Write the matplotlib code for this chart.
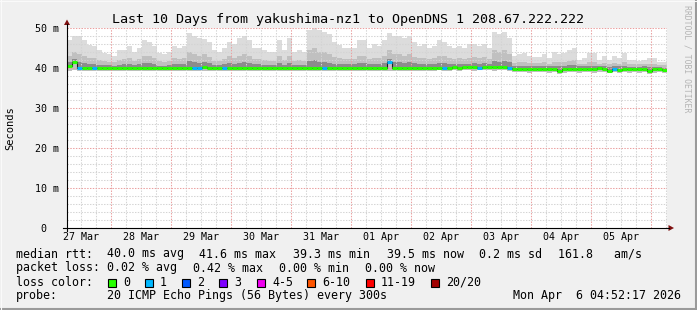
import matplotlib
matplotlib.use('Agg')
import matplotlib.pyplot as plt
import matplotlib.dates as mdates
from matplotlib.patches import Rectangle, Polygon
from matplotlib.lines import Line2D
import numpy as np
import pandas as pd

title = 'Last 10 Days from yakushima-nz1 to OpenDNS 1 208.67.222.222'
t_start = '2026-03-27 06:24'     # left edge of graph
bin_hours = 2                    # one smoke column = 2 hours
day_labels = ['27 Mar', '28 Mar', '29 Mar', '30 Mar', '31 Mar',
              '01 Apr', '02 Apr', '03 Apr', '04 Apr', '05 Apr']
y_ticks = [0, 10, 20, 30, 40, 50]
y_labels = ['0  ', '10 m', '20 m', '30 m', '40 m', '50 m']

# rtt in ms, one value per 2h bin (12 per row = 1 day)
smoke_top = [
    47, 48, 48, 47, 45.7, 45.5, 44.5, 43.7, 43.5, 43, 44.5, 44.5,
    45.5, 44, 45, 47, 46.5, 45.5, 43.7, 43.5, 44, 45.5, 45, 45.5,
    48.7, 48, 47.5, 47.3, 46.5, 44.5, 44, 45, 46.5, 46, 47.5, 48,
    47, 45, 45, 44.5, 44, 44, 47, 44.5, 47.5, 44, 44.5, 44,
    49.5, 50, 49.5, 49, 48.5, 46.5, 45.7, 45, 45, 45, 47, 47,
    45, 46, 45.5, 47, 48.7, 48, 48, 47.5, 48, 46.5, 45.5, 46,
    45, 45.5, 47, 46.5, 45.5, 45, 45.5, 45, 46, 46, 45.5, 46,
    45, 49, 48.5, 49, 47.5, 43, 43.5, 43.7, 43, 42.8, 42.8, 43.5,
    42.5, 44, 43.5, 43.7, 44.5, 45, 42, 42.5, 43.7, 43.7, 42, 43,
    42, 43, 42.5, 43.7, 42, 42, 41.8, 42, 42.6, 42.6, 41.5, 41.5]
smoke_mid = [
    43, 44, 43.5, 43, 42.5, 42.5, 42, 41.8, 41.6, 41.5, 42, 42.2,
    42.5, 41.8, 42.2, 43, 43, 42.5, 41.7, 41.6, 41.8, 42.5, 42.2, 42.6,
    44, 43.5, 43, 43.5, 42.8, 41.8, 41.8, 42.2, 43, 42.5, 43, 43.5,
    43, 42.2, 42.2, 42, 41.8, 41.8, 43, 42, 43, 41.8, 42, 41.8,
    44.5, 45, 44, 44, 43.5, 42.8, 42.5, 42.2, 42.2, 42.2, 43, 43,
    42.2, 42.5, 42.5, 43, 44.5, 43.5, 43.5, 43, 43.5, 42.8, 42.5, 42.5,
    42.2, 42.5, 43, 43, 42.5, 42.2, 42.5, 42.2, 42.5, 42.8, 42.5, 42.8,
    42.2, 44.5, 44, 44.5, 43.5, 41.3, 41.5, 41.5, 41.2, 41.2, 41.2, 41.4,
    41.1, 41.6, 41.5, 41.5, 41.8, 42, 41, 41.1, 41.5, 41.5, 41, 41.2,
    41, 41.2, 41.1, 41.5, 41, 41, 40.9, 41, 41.1, 41.1, 40.8, 40.8]
smoke_dark = [
    41.5, 42.2, 41.5, 41.2, 40.9, 40.9, 40.8, 40.7, 40.7, 40.6, 40.8, 40.9,
    41, 40.7, 40.9, 41.3, 41.3, 41, 40.6, 40.6, 40.7, 41, 40.9, 41,
    41.8, 41.5, 41.3, 41.5, 41.2, 40.8, 40.7, 40.9, 41.3, 41, 41.3, 41.5,
    41.3, 40.9, 40.9, 40.8, 40.7, 40.7, 41.3, 40.8, 41.3, 40.7, 40.8, 40.7,
    41.8, 42, 41.6, 41.5, 41.3, 41, 40.9, 40.9, 40.9, 40.9, 41.2, 41.2,
    40.9, 41, 41, 41.3, 42.2, 41.6, 41.5, 41.3, 41.5, 41.2, 41, 41,
    41, 41, 41.2, 41.2, 41, 41, 41, 41, 41.1, 41.2, 41.1, 41.2,
    41, 41.8, 41.6, 41.8, 41.5, 40.5, 40.6, 40.6, 40.5, 40.5, 40.5, 40.6,
    40.4, 40.6, 40.5, 40.6, 40.7, 40.8, 40.4, 40.5, 40.6, 40.6, 40.4, 40.5,
    40.3, 40.5, 40.4, 40.6, 40.3, 40.3, 40.3, 40.4, 40.3, 40.3, 40.2, 40.1]
smoke_low = [
    39.3, 39.4, 39.2, 39.3, 39.3, 39.2, 39.3, 39.3, 39.2, 39.3, 39.3, 39.2,
    39.3, 39.2, 39.3, 39.3, 39.2, 39.3, 39.3, 39.3, 39.2, 39.3, 39.2, 39.3,
    39.2, 39.2, 39.3, 39.3, 39.2, 39.3, 39.3, 39.2, 39.3, 39.3, 39.2, 39.3,
    39.3, 39.2, 39.3, 39.3, 39.3, 39.2, 39.3, 39.3, 39.2, 39.3, 39.3, 39.3,
    39.2, 39.2, 39.3, 39.2, 39.3, 39.3, 39.2, 39.3, 39.3, 39.3, 39.2, 39.3,
    39.3, 39.2, 39.3, 39.3, 39.2, 39.3, 39.3, 39.2, 39.3, 39.3, 39.3, 39.2,
    39.3, 39.3, 39.4, 39.3, 39.3, 39.4, 39.3, 39.4, 39.4, 39.3, 39.4, 39.4,
    39.4, 39.3, 39.4, 39.4, 39.3, 39.0, 38.9, 38.9, 38.8, 38.9, 38.9, 38.9,
    38.8, 38.9, 38.6, 38.8, 38.9, 38.9, 38.8, 38.9, 38.9, 38.8, 38.9, 38.9,
    38.7, 38.9, 38.7, 38.9, 38.8, 38.9, 38.8, 38.9, 38.5, 38.8, 38.9, 38.7]
median = [
    40.4, 41.6, 40.1, 40.0, 40.0, 40.0, 40.0, 40.1, 40.0, 40.0, 40.0, 40.0,
    40.0, 40.1, 40.0, 40.0, 40.1, 40.0, 40.0, 40.0, 40.1, 40.0, 39.9, 40.0,
    40.0, 40.1, 40.0, 40.2, 40.0, 40.1, 40.0, 40.0, 40.0, 40.1, 40.0, 40.0,
    40.0, 40.0, 40.1, 40.0, 40.0, 40.0, 40.1, 40.0, 40.0, 40.0, 40.0, 40.0,
    40.0, 40.1, 40.0, 40.1, 40.0, 40.1, 40.0, 40.0, 40.0, 40.1, 40.0, 40.0,
    40.0, 40.0, 40.1, 40.0, 41.6, 40.1, 40.0, 40.1, 40.0, 40.1, 40.0, 40.0,
    40.1, 40.0, 40.0, 40.1, 40.0, 40.2, 40.1, 40.2, 40.2, 40.2, 40.1, 40.2,
    40.2, 40.2, 40.2, 40.2, 40.1, 39.8, 39.8, 39.7, 39.7, 39.7, 39.7, 39.8,
    39.7, 39.8, 39.2, 39.7, 39.8, 39.8, 39.7, 39.8, 39.8, 39.8, 39.9, 39.8,
    39.3, 39.8, 39.6, 39.8, 39.7, 39.8, 39.7, 39.8, 39.2, 39.7, 39.8, 39.5]
# lost pings (of 20) per bin
loss = [0] * 120
for i in [2, 5, 25, 26, 31, 51, 64, 75, 82, 88, 109]:
    loss[i] = 1

loss_labels = ['0', '1', '2', '3', '4-5', '6-10', '11-19', '20/20']
loss_colors = ['#26ff00', '#00b8ff', '#0059ff', '#7e00ff', '#f000f0',
               '#ff5500', '#ff0000', '#a10000']
loss_limits = [0, 1, 2, 3, 5, 10, 19, 20]

stats_rows = [
    ('median rtt:', [(107, '40.0 ms avg'), (199, '41.6 ms max'), (293, '39.3 ms min'),
                     (387, '39.5 ms now'), (479, '0.2 ms sd'), (558, '161.8   am/s')]),
    ('packet loss:', [(107, '0.02 % avg'), (193, '0.42 % max'), (279, '0.00 % min'),
                      (365, '0.00 % now')]),
    ('probe:', [(107, '20 ICMP Echo Pings (56 Bytes) every 300s'),
                (513, 'Mon Apr  6 04:52:17 2026')]),
]

W, H = 697, 310
MONO = 'DejaVu Sans Mono'


def fx(px):
    return px / W


def fy(py):
    return 1 - py / H


def loss_color(n):
    for lim, c in zip(loss_limits, loss_colors):
        if n <= lim:
            return c
    return loss_colors[-1]


fig = plt.figure(figsize=(W / 100, H / 100), dpi=100, facecolor='#f0f0f0')
ax = fig.add_axes([fx(67), fy(228), 600 / W, 200 / H])
ax.set_facecolor('white')

start = pd.Timestamp(t_start)
n = len(median)
edges = start + pd.to_timedelta(np.arange(n + 1) * bin_hours, unit='h')
xe = mdates.date2num(edges.to_pydatetime())


def step(v):
    return np.append(v, v[-1])


ax.fill_between(xe, step(smoke_low), step(smoke_top), step='post', color='#dcdcdc', lw=0, zorder=1)
ax.fill_between(xe, step(smoke_low), step(smoke_mid), step='post', color='#c0c0c0', lw=0, zorder=1.1)
ax.fill_between(xe, step(median), step(smoke_dark), step='post', color='#8c8c8c', lw=0, zorder=1.2)

# grid (drawn over smoke like rrdtool)
end = start + pd.Timedelta(days=10)
x0, x1 = mdates.date2num(start.to_pydatetime()), mdates.date2num(end.to_pydatetime())
six_h = pd.date_range(start.ceil('6h'), end, freq='6h')
for t in six_h:
    xv = mdates.date2num(t.to_pydatetime())
    if t.hour == 0:
        ax.axvline(xv, color='#eba0a0', lw=0.75, ls=(0, (1.35, 1.35)), zorder=3)
    else:
        ax.axvline(xv, color='#d4d4d4', lw=0.75, ls=(0, (1.35, 1.35)), zorder=3)
for yv in range(2, 51, 2):
    if yv % 10 == 0:
        ax.axhline(yv, color='#eba0a0', lw=0.75, ls=(0, (1.35, 1.35)), zorder=3)
    else:
        ax.axhline(yv, color='#d4d4d4', lw=0.75, ls=(0, (1.35, 1.35)), zorder=3)

# median line coloured by loss
ax.step(xe, step(median), where='post', color='#202020', lw=0.8, zorder=4)
for i in range(n):
    ax.hlines(median[i], xe[i], xe[i + 1], color=loss_color(loss[i]), lw=2.2, zorder=5)

ax.set_xlim(x0, x1)
ax.set_ylim(0, 50)
noons = [mdates.date2num((start.normalize() + pd.Timedelta(days=k, hours=12)).to_pydatetime())
         for k in range(len(day_labels))]
ax.set_xticks(noons)
ax.set_xticklabels(day_labels, family=MONO, fontsize=7.2)
ax.set_yticks(y_ticks)
ax.set_yticklabels(y_labels, family=MONO, fontsize=7.2)
ax.tick_params(axis='x', length=0, pad=3)
ax.tick_params(axis='y', length=0, pad=5.8)
for s in ax.spines.values():
    s.set_visible(False)

# axes with arrows
fig.add_artist(Line2D([fx(67), fx(67)], [fy(231), fy(24)], color='black', lw=0.8))
fig.add_artist(Line2D([fx(63), fx(669)], [fy(228), fy(228)], color='black', lw=0.8))
fig.add_artist(Polygon([(fx(64), fy(25)), (fx(70), fy(25)), (fx(67), fy(19.5))],
                       closed=True, color='#7f1010', lw=0))
fig.add_artist(Polygon([(fx(668.5), fy(225)), (fx(668.5), fy(231)), (fx(674), fy(228))],
                       closed=True, color='#7f1010', lw=0))

fig.text(0.5, fy(19), title, family=MONO, fontsize=9.6, ha='center', va='center')
fig.text(fx(10), fy(128), 'Seconds', family=MONO, fontsize=7.5, rotation=90,
         ha='center', va='center')
fig.text(fx(687), fy(59), 'RRDTOOL / TOBI OETIKER', family=MONO, fontsize=5.9,
         rotation=-90, ha='center', va='center', color='#b4b4b4')

# legend rows
row_y = [254, 268, 296]
for (head, items), ry in zip(stats_rows, row_y):
    fig.text(fx(16), fy(ry), head, family=MONO, fontsize=8.4, va='center')
    for px, s in items:
        fig.text(fx(px), fy(ry), s, family=MONO, fontsize=8.4, va='center')

fig.text(fx(16), fy(282), 'loss color:', family=MONO, fontsize=8.4, va='center')
box_x = [108, 145, 182, 219, 257, 307, 366, 431]
for bx, lab, col in zip(box_x, loss_labels, loss_colors):
    fig.add_artist(Rectangle((fx(bx), fy(286.5)), 8 / W, 8 / H, facecolor=col,
                             edgecolor='black', lw=0.8))
    fig.text(fx(bx + 15), fy(282), lab, family=MONO, fontsize=8.4, va='center')

# frame shading
fig.add_artist(Line2D([fx(696), fx(696)], [0, 1], color='#9a9a9a', lw=1.5))
fig.add_artist(Line2D([0, 1], [fy(309), fy(309)], color='#9a9a9a', lw=1.5))
fig.add_artist(Line2D([0, 1], [fy(0.5), fy(0.5)], color='#fafafa', lw=0.8))
fig.add_artist(Line2D([fx(0.5), fx(0.5)], [0, 1], color='#fafafa', lw=0.8))

fig.savefig('out.png', dpi=100, facecolor=fig.get_facecolor())
